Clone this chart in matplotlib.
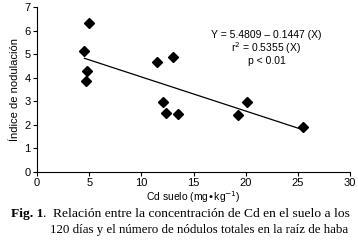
import numpy as np
import matplotlib.pyplot as plt

plt.rcParams["font.family"] = ["Liberation Sans", "DejaVu Sans"]

# Cd in soil (mg/kg) vs nodulation index
cd_suelo = [4.96, 4.54, 4.83, 4.67, 11.5, 13.0, 12.05, 12.35, 13.5, 19.25, 20.1, 25.5]
nodulacion = [6.33, 5.12, 4.30, 3.84, 4.67, 4.88, 2.97, 2.52, 2.48, 2.43, 2.99, 1.93]

intercept = 5.4809
slope = -0.1447
x_fit = np.array([4.54, 25.5])

fig = plt.figure(figsize=(3.58, 2.40), dpi=100)
ax = fig.add_axes([37 / 358, 1 - 172 / 240, 313 / 358, 165 / 240])

ax.plot(x_fit, intercept + slope * x_fit, color="black", linewidth=0.9)
ax.plot(cd_suelo, nodulacion, linestyle="none", marker="D", markersize=5.5,
        color="black")

ax.set_xlim(0, 30)
ax.set_ylim(0, 7)
ax.set_xticks(range(0, 31, 5))
ax.set_yticks(range(0, 8))
ax.tick_params(labelsize=8, length=3, width=0.8, pad=1.5)
for side in ["top", "right"]:
    ax.spines[side].set_visible(False)
ax.spines["left"].set_linewidth(0.8)
ax.spines["bottom"].set_linewidth(0.8)

ax.set_xlabel("Cd suelo (mg\u2022kg$^{-1}$)", fontsize=7.5, labelpad=1)
ax.set_ylabel("Índice de nodulación", fontsize=8, labelpad=3)

ax.text(22, 5.8, "Y = 5.4809 \u2013 0.1447 (X)", fontsize=7.5, ha="center", va="center")
ax.text(22, 5.25, "r$^2$ = 0.5355 (X)", fontsize=7.5, ha="center", va="center")
ax.text(22, 4.7, "p < 0.01", fontsize=7.5, ha="center", va="center")

fig.text(11 / 358, 1 - 214 / 240, "Fig. 1", fontsize=9.7, fontweight="bold",
         family="Liberation Serif", va="center")
fig.text(42 / 358, 1 - 214 / 240, ".", fontsize=9.7,
         family="Liberation Serif", va="center")
fig.text(53 / 358, 1 - 214 / 240,
         "Relación entre la concentración de Cd en el suelo a los",
         fontsize=9.7, family="Liberation Serif", va="center")
fig.text(50 / 358, 1 - 230 / 240,
         "120 días y el número de nódulos totales en la raíz de haba",
         fontsize=9.3, family="Liberation Serif", va="center")

fig.savefig("out.png", dpi=100)
